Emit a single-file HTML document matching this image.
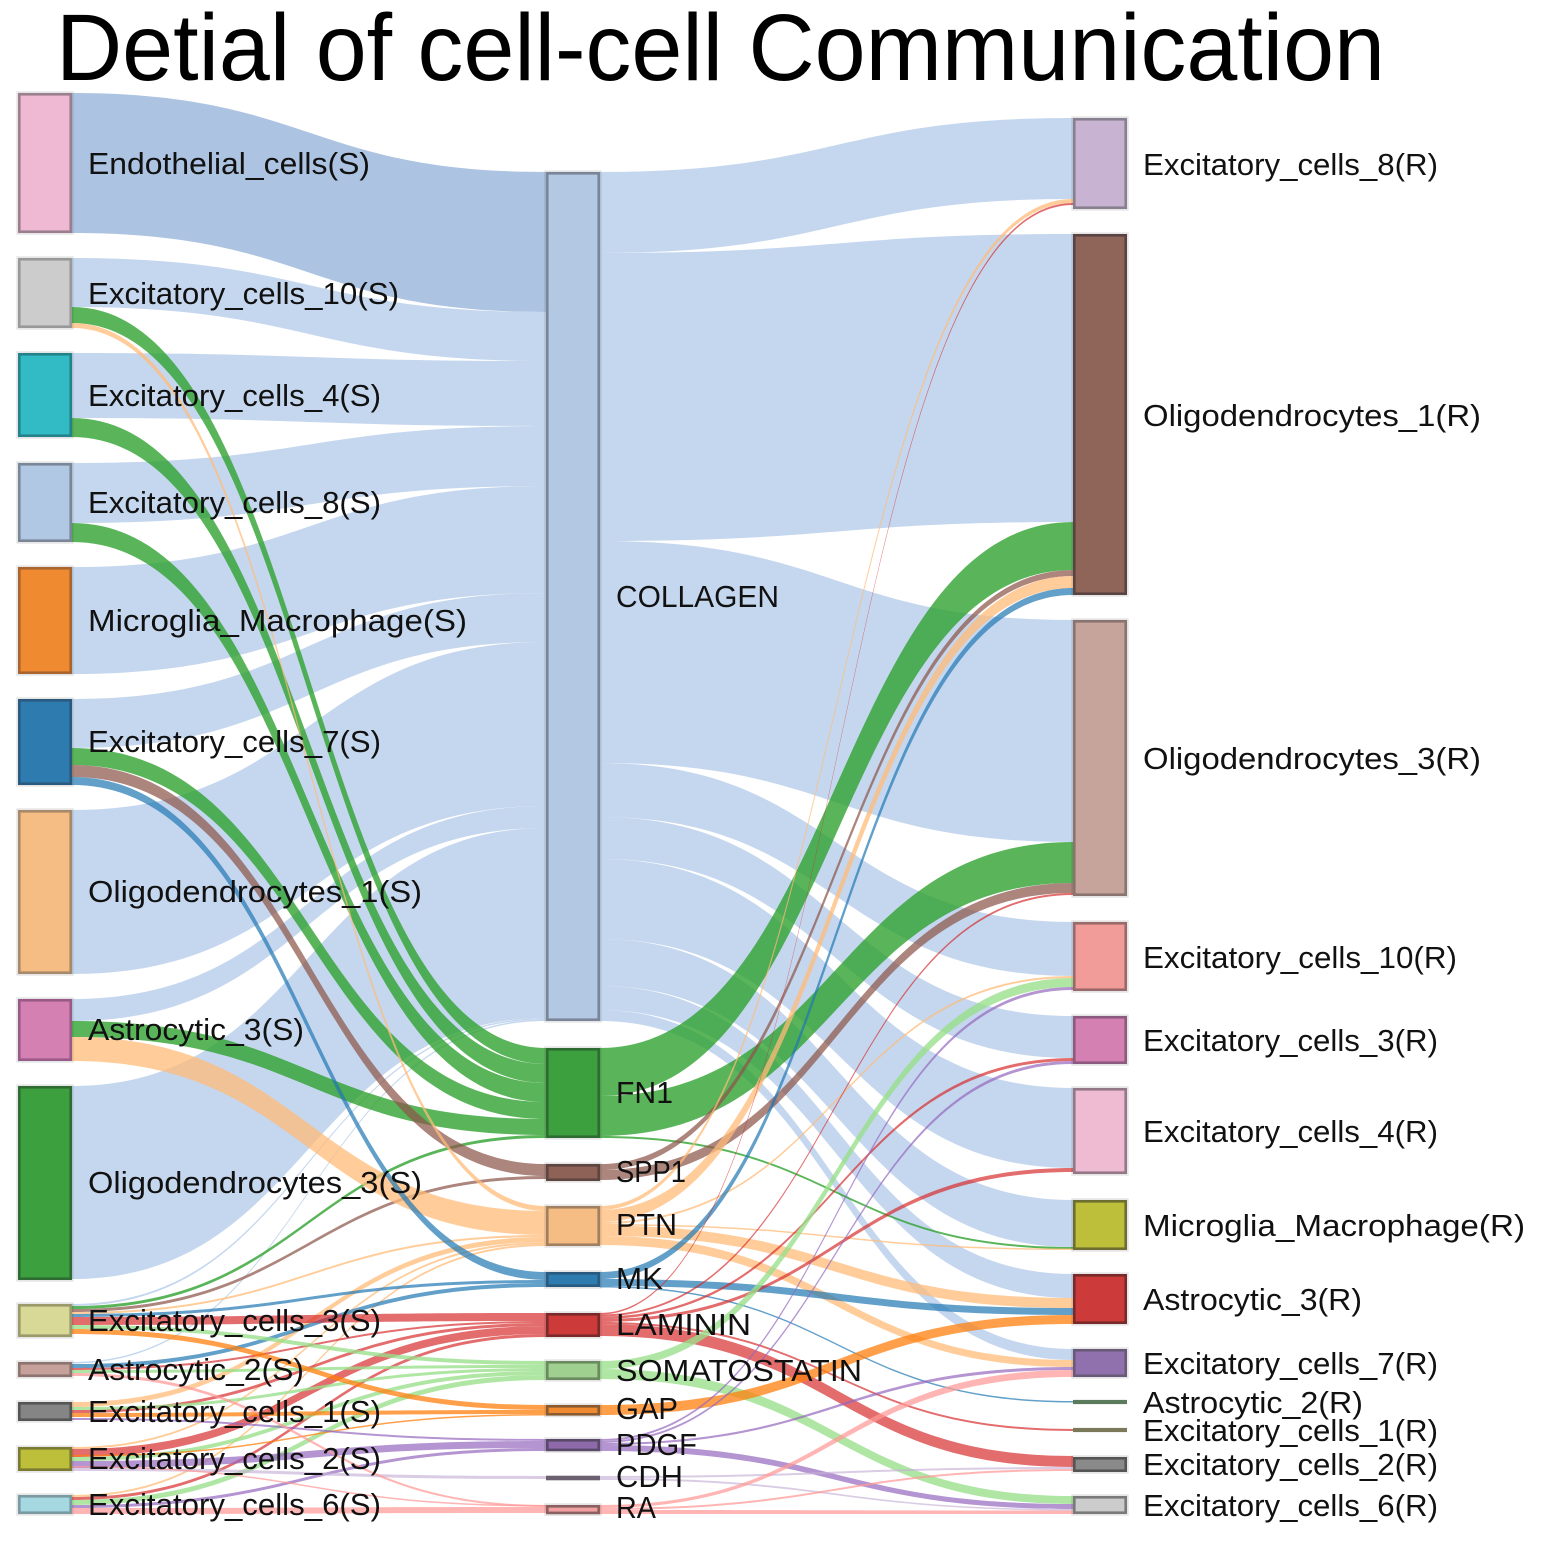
<!DOCTYPE html>
<html>
<head>
<meta charset="utf-8">
<style>
html,body{margin:0;padding:0;background:#fff;}
svg{display:block;}
.lab{font-family:"Liberation Sans","DejaVu Sans",sans-serif;font-size:31px;fill:#111;}
</style>
</head>
<body>
<svg width="1548" height="1551" viewBox="0 0 1548 1551" xmlns="http://www.w3.org/2000/svg">
<rect width="1548" height="1551" fill="#fff"/>

<!-- LEFT -> MIDDLE : COLLAGEN -->
<g fill="#aec7e8" fill-opacity="0.72">
<path d="M72 93C309 93 309 172 546 172L546 312C309 312 309 233 72 233Z" fill="#a9c1e0" fill-opacity="0.97"/>
<path d="M72 258C309 258 309 312 546 312L546 361C309 361 309 307 72 307Z"/>
<path d="M72 353C309 353 309 361 546 361L546 426C309 426 309 418 72 418Z"/>
<path d="M72 463C309 463 309 426 546 426L546 486C309 486 309 523 72 523Z"/>
<path d="M72 567C309 567 309 486 546 486L546 593C309 593 309 674 72 674Z"/>
<path d="M72 699C309 699 309 593 546 593L546 642C309 642 309 748 72 748Z"/>
<path d="M72 810C309 810 309 642 546 642L546 806C309 806 309 974 72 974Z"/>
<path d="M72 999C309 999 309 806 546 806L546 828C309 828 309 1021 72 1021Z"/>
<path d="M72 1086C309 1086 309 828 546 828L546 1018C309 1018 309 1279 72 1279Z"/>
<path d="M72 1304C309 1304 309 1018 546 1018L546 1019.5C309 1019.5 309 1306 72 1306Z"/>
<path d="M72 1362C309 1362 309 1019.5 546 1019.5L546 1021C309 1021 309 1363.5 72 1363.5Z"/>
</g>

<!-- MIDDLE -> RIGHT : COLLAGEN -->
<g fill="#aec7e8" fill-opacity="0.72">
<path d="M600 172C836.5 172 836.5 118 1073 118L1073 199C836.5 199 836.5 253 600 253Z"/>
<path d="M600 253C836.5 253 836.5 234 1073 234L1073 522C836.5 522 836.5 541 600 541Z"/>
<path d="M600 541C836.5 541 836.5 620 1073 620L1073 842C836.5 842 836.5 763 600 763Z"/>
<path d="M600 763C836.5 763 836.5 922 1073 922L1073 976C836.5 976 836.5 817 600 817Z"/>
<path d="M600 817C836.5 817 836.5 1016 1073 1016L1073 1058C836.5 1058 836.5 859 600 859Z"/>
<path d="M600 859C836.5 859 836.5 1088 1073 1088L1073 1168C836.5 1168 836.5 939 600 939Z"/>
<path d="M600 939C836.5 939 836.5 1200 1073 1200L1073 1247C836.5 1247 836.5 986 600 986Z"/>
<path d="M600 986C836.5 986 836.5 1274 1073 1274L1073 1298C836.5 1298 836.5 1010 600 1010Z"/>
<path d="M600 1010C836.5 1010 836.5 1349 1073 1349L1073 1360C836.5 1360 836.5 1021 600 1021Z"/>
</g>

<!-- FN1 -->
<g fill="#2ca02c" fill-opacity="0.78">
<path d="M72 307C309 307 309 1048 546 1048L546 1064C309 1064 309 323 72 323Z"/>
<path d="M72 418C309 418 309 1064 546 1064L546 1083C309 1083 309 437 72 437Z"/>
<path d="M72 523C309 523 309 1083 546 1083L546 1102C309 1102 309 542 72 542Z"/>
<path d="M72 748C309 748 309 1102 546 1102L546 1119C309 1119 309 765 72 765Z"/>
<path d="M72 1021C309 1021 309 1119 546 1119L546 1135C309 1135 309 1037 72 1037Z"/>
<path d="M72 1306C309 1306 309 1135 546 1135L546 1138C309 1138 309 1309 72 1309Z"/>
<path d="M600 1048C836.5 1048 836.5 522 1073 522L1073 570C836.5 570 836.5 1096 600 1096Z"/>
<path d="M600 1096C836.5 1096 836.5 842 1073 842L1073 883C836.5 883 836.5 1136 600 1136Z"/>
<path d="M600 1136C836.5 1136 836.5 1247 1073 1247L1073 1249C836.5 1249 836.5 1138 600 1138Z"/>
</g>

<!-- SPP1 -->
<g fill="#8c564b" fill-opacity="0.72">
<path d="M72 765C309 765 309 1164 546 1164L546 1176C309 1176 309 777 72 777Z"/>
<path d="M72 1309C309 1309 309 1176 546 1176L546 1179C309 1179 309 1312 72 1312Z"/>
<path d="M600 1164C836.5 1164 836.5 570 1073 570L1073 576C836.5 576 836.5 1170 600 1170Z"/>
<path d="M600 1170C836.5 1170 836.5 883 1073 883L1073 893C836.5 893 836.5 1180 600 1180Z"/>
</g>

<!-- PTN -->
<g fill="#ffbb78" fill-opacity="0.75">
<path d="M72 323C309 323 309 1206 546 1206L546 1211C309 1211 309 328 72 328Z"/>
<path d="M72 1037C309 1037 309 1211 546 1211L546 1235C309 1235 309 1061 72 1061Z"/>
<path d="M72 1312C309 1312 309 1235 546 1235L546 1237C309 1237 309 1314 72 1314Z"/>
<path d="M72 1402C309 1402 309 1237 546 1237L546 1242C309 1242 309 1407 72 1407Z"/>
<path d="M72 1447C309 1447 309 1242 546 1242L546 1244C309 1244 309 1449 72 1449Z"/>
<path d="M72 1495C309 1495 309 1244 546 1244L546 1246C309 1246 309 1497 72 1497Z"/>
<path d="M600 1206C836.5 1206 836.5 199 1073 199L1073 203C836.5 203 836.5 1210 600 1210Z"/>
<path d="M600 1210C836.5 1210 836.5 576 1073 576L1073 588C836.5 588 836.5 1222 600 1222Z"/>
<path d="M600 1222C836.5 1222 836.5 976 1073 976L1073 978C836.5 978 836.5 1224 600 1224Z"/>
<path d="M600 1224C836.5 1224 836.5 1248.5 1073 1248.5L1073 1250C836.5 1250 836.5 1225.5 600 1225.5Z"/>
<path d="M600 1225.5C836.5 1225.5 836.5 1298 1073 1298L1073 1308C836.5 1308 836.5 1236 600 1236Z"/>
<path d="M600 1236C836.5 1236 836.5 1360 1073 1360L1073 1367C836.5 1367 836.5 1245 600 1245Z"/>
</g>

<!-- MK -->
<g fill="#1f77b4" fill-opacity="0.7">
<path d="M72 777C309 777 309 1272 546 1272L546 1280C309 1280 309 785 72 785Z"/>
<path d="M72 1314C309 1314 309 1280 546 1280L546 1283C309 1283 309 1317 72 1317Z"/>
<path d="M72 1364C309 1364 309 1283 546 1283L546 1287C309 1287 309 1368 72 1368Z"/>
<path d="M600 1272C836.5 1272 836.5 588 1073 588L1073 595C836.5 595 836.5 1279 600 1279Z"/>
<path d="M600 1279C836.5 1279 836.5 1308 1073 1308L1073 1315C836.5 1315 836.5 1286 600 1286Z"/>
<path d="M600 1286C836.5 1286 836.5 1401 1073 1401L1073 1402.5C836.5 1402.5 836.5 1287.5 600 1287.5Z"/>
</g>

<!-- LAMININ -->
<g fill="#d62728" fill-opacity="0.68">
<path d="M72 1317C309 1317 309 1313 546 1313L546 1321C309 1321 309 1325 72 1325Z"/>
<path d="M72 1368C309 1368 309 1321 546 1321L546 1323C309 1323 309 1370 72 1370Z"/>
<path d="M72 1410C309 1410 309 1323 546 1323L546 1326C309 1326 309 1413 72 1413Z"/>
<path d="M72 1449C309 1449 309 1326 546 1326L546 1334C309 1334 309 1457 72 1457Z"/>
<path d="M72 1497C309 1497 309 1334 546 1334L546 1337C309 1337 309 1500 72 1500Z"/>
<path d="M600 1313C836.5 1313 836.5 203 1073 203L1073 205C836.5 205 836.5 1314.5 600 1314.5Z"/>
<path d="M600 1314.5C836.5 1314.5 836.5 893 1073 893L1073 895C836.5 895 836.5 1316.5 600 1316.5Z"/>
<path d="M600 1316.5C836.5 1316.5 836.5 1058 1073 1058L1073 1061C836.5 1061 836.5 1319 600 1319Z"/>
<path d="M600 1319C836.5 1319 836.5 1168 1073 1168L1073 1172C836.5 1172 836.5 1322 600 1322Z"/>
<path d="M600 1322C836.5 1322 836.5 1429 1073 1429L1073 1431C836.5 1431 836.5 1324 600 1324Z"/>
<path d="M600 1324C836.5 1324 836.5 1456 1073 1456L1073 1467C836.5 1467 836.5 1336 600 1336Z"/>
</g>

<!-- SOMATOSTATIN -->
<g fill="#98df8a" fill-opacity="0.78">
<path d="M72 1325C309 1325 309 1361 546 1361L546 1365C309 1365 309 1329 72 1329Z"/>
<path d="M72 1370C309 1370 309 1365 546 1365L546 1368C309 1368 309 1373 72 1373Z"/>
<path d="M72 1407C309 1407 309 1368 546 1368L546 1371C309 1371 309 1410 72 1410Z"/>
<path d="M72 1457C309 1457 309 1371 546 1371L546 1375C309 1375 309 1461 72 1461Z"/>
<path d="M72 1500C309 1500 309 1375 546 1375L546 1380C309 1380 309 1505 72 1505Z"/>
<path d="M600 1361C836.5 1361 836.5 978 1073 978L1073 987C836.5 987 836.5 1369 600 1369Z"/>
<path d="M600 1369C836.5 1369 836.5 1496 1073 1496L1073 1504C836.5 1504 836.5 1379 600 1379Z"/>
</g>

<!-- GAP -->
<g fill="#ff7f0e" fill-opacity="0.75">
<path d="M72 1329C309 1329 309 1405 546 1405L546 1410C309 1410 309 1334 72 1334Z"/>
<path d="M72 1413C309 1413 309 1410 546 1410L546 1414C309 1414 309 1417 72 1417Z"/>
<path d="M72 1455C309 1455 309 1414 546 1414L546 1415.5C309 1415.5 309 1456.5 72 1456.5Z"/>
<path d="M600 1405C836.5 1405 836.5 1315 1073 1315L1073 1324C836.5 1324 836.5 1415 600 1415Z"/>
</g>

<!-- PDGF -->
<g fill="#9467bd" fill-opacity="0.7">
<path d="M72 1418C309 1418 309 1439 546 1439L546 1441C309 1441 309 1420 72 1420Z"/>
<path d="M72 1461C309 1461 309 1441 546 1441L546 1448C309 1448 309 1468 72 1468Z"/>
<path d="M72 1505C309 1505 309 1448 546 1448L546 1451C309 1451 309 1508 72 1508Z"/>
<path d="M600 1439C836.5 1439 836.5 987 1073 987L1073 990C836.5 990 836.5 1441 600 1441Z"/>
<path d="M600 1441C836.5 1441 836.5 1061 1073 1061L1073 1064C836.5 1064 836.5 1443 600 1443Z"/>
<path d="M600 1443C836.5 1443 836.5 1367 1073 1367L1073 1370C836.5 1370 836.5 1445 600 1445Z"/>
<path d="M600 1445C836.5 1445 836.5 1504 1073 1504L1073 1509C836.5 1509 836.5 1451 600 1451Z"/>
</g>

<!-- CDH -->
<g fill="#c5b0d5" fill-opacity="0.65">
<path d="M72 1468C309 1468 309 1476 546 1476L546 1479C309 1479 309 1471 72 1471Z"/>
<path d="M600 1476C836.5 1476 836.5 1467 1073 1467L1073 1469C836.5 1469 836.5 1478 600 1478Z"/>
<path d="M600 1478C836.5 1478 836.5 1509 1073 1509L1073 1510.5C836.5 1510.5 836.5 1480 600 1480Z"/>
</g>

<!-- RA -->
<g fill="#ff9896" fill-opacity="0.72">
<path d="M72 1373C309 1373 309 1505 546 1505L546 1507C309 1507 309 1376 72 1376Z"/>
<path d="M72 1466C309 1466 309 1505 546 1505L546 1506.5C309 1506.5 309 1467.5 72 1467.5Z"/>
<path d="M72 1508C309 1508 309 1507 546 1507L546 1513C309 1513 309 1514 72 1514Z"/>
<path d="M600 1505C836.5 1505 836.5 1370 1073 1370L1073 1377C836.5 1377 836.5 1508 600 1508Z"/>
<path d="M600 1508C836.5 1508 836.5 1469 1073 1469L1073 1471C836.5 1471 836.5 1510 600 1510Z"/>
<path d="M600 1510C836.5 1510 836.5 1510.5 1073 1510.5L1073 1514C836.5 1514 836.5 1514 600 1514Z"/>
</g>

<!-- node halos -->
<g fill="none" stroke="#000" stroke-opacity="0.1" stroke-width="6">
<rect x="19.3" y="94.3" width="51.4" height="137.4"/>
<rect x="19.3" y="259.3" width="51.4" height="67.4"/>
<rect x="19.3" y="354.3" width="51.4" height="81.4"/>
<rect x="19.3" y="464.3" width="51.4" height="76.4"/>
<rect x="19.3" y="568.3" width="51.4" height="104.4"/>
<rect x="19.3" y="700.3" width="51.4" height="83.4"/>
<rect x="19.3" y="811.3" width="51.4" height="161.4"/>
<rect x="19.3" y="1000.3" width="51.4" height="59.4"/>
<rect x="19.3" y="1087.3" width="51.4" height="191.4"/>
<rect x="19.3" y="1305.3" width="51.4" height="30.4"/>
<rect x="19.3" y="1363.3" width="51.4" height="12.4"/>
<rect x="19.3" y="1403.3" width="51.4" height="16.4"/>
<rect x="19.3" y="1448.3" width="51.4" height="21.4"/>
<rect x="19.3" y="1496.3" width="51.4" height="16.4"/>
<rect x="547.3" y="173.3" width="51.4" height="846.4"/>
<rect x="547.3" y="1049.3" width="51.4" height="87.4"/>
<rect x="547.3" y="1165.3" width="51.4" height="14.4"/>
<rect x="547.3" y="1207.3" width="51.4" height="37.4"/>
<rect x="547.3" y="1273.3" width="51.4" height="12.4"/>
<rect x="547.3" y="1314.3" width="51.4" height="21.4"/>
<rect x="547.3" y="1362.3" width="51.4" height="16.4"/>
<rect x="547.3" y="1406.3" width="51.4" height="8"/>
<rect x="547.3" y="1440.3" width="51.4" height="9.6"/>
<rect x="547.3" y="1506.3" width="51.4" height="6.6"/>
<rect x="1074.3" y="119.3" width="51.4" height="88.4"/>
<rect x="1074.3" y="235.3" width="51.4" height="358.4"/>
<rect x="1074.3" y="621.3" width="51.4" height="273.4"/>
<rect x="1074.3" y="923.3" width="51.4" height="66.4"/>
<rect x="1074.3" y="1017.3" width="51.4" height="45.4"/>
<rect x="1074.3" y="1089.3" width="51.4" height="83.4"/>
<rect x="1074.3" y="1201.3" width="51.4" height="47.4"/>
<rect x="1074.3" y="1275.3" width="51.4" height="47.4"/>
<rect x="1074.3" y="1350.3" width="51.4" height="25.4"/>
<rect x="1074.3" y="1458.3" width="51.4" height="12.4"/>
<rect x="1074.3" y="1497.3" width="51.4" height="15.4"/>
</g>

<!-- NODES LEFT -->
<g stroke-width="2.6">
<rect x="19.3" y="94.3" width="51.4" height="137.4" fill="#efb9d3" stroke="#9c7f8f"/>
<rect x="19.3" y="259.3" width="51.4" height="67.4" fill="#cccccc" stroke="#999999"/>
<rect x="19.3" y="354.3" width="51.4" height="81.4" fill="#33bbc5" stroke="#24838a"/>
<rect x="19.3" y="464.3" width="51.4" height="76.4" fill="#b1c8e4" stroke="#7a8798"/>
<rect x="19.3" y="568.3" width="51.4" height="104.4" fill="#ef8a30" stroke="#a86530"/>
<rect x="19.3" y="700.3" width="51.4" height="83.4" fill="#2e7bb0" stroke="#2a5a80"/>
<rect x="19.3" y="811.3" width="51.4" height="161.4" fill="#f5bd83" stroke="#a88a6a"/>
<rect x="19.3" y="1000.3" width="51.4" height="59.4" fill="#d480b3" stroke="#9a5a88"/>
<rect x="19.3" y="1087.3" width="51.4" height="191.4" fill="#3da03e" stroke="#2e6c34"/>
<rect x="19.3" y="1305.3" width="51.4" height="30.4" fill="#d8d996" stroke="#9a9a6a"/>
<rect x="19.3" y="1363.3" width="51.4" height="12.4" fill="#c6a09a" stroke="#8e7470"/>
<rect x="19.3" y="1403.3" width="51.4" height="16.4" fill="#858585" stroke="#555555"/>
<rect x="19.3" y="1448.3" width="51.4" height="21.4" fill="#bdbe3a" stroke="#7a7a30"/>
<rect x="19.3" y="1496.3" width="51.4" height="16.4" fill="#a5d8e0" stroke="#789aa0"/>
</g>

<!-- NODES MIDDLE -->
<g stroke-width="2.6">
<rect x="547.3" y="173.3" width="51.4" height="846.4" fill="#b3c8e3" stroke="#7a8598"/>
<rect x="547.3" y="1049.3" width="51.4" height="87.4" fill="#3da03e" stroke="#2e6c34"/>
<rect x="547.3" y="1165.3" width="51.4" height="14.4" fill="#8f6257" stroke="#5e4640"/>
<rect x="547.3" y="1207.3" width="51.4" height="37.4" fill="#f5bd83" stroke="#a08060"/>
<rect x="547.3" y="1273.3" width="51.4" height="12.4" fill="#2e7bb0" stroke="#2a5a80"/>
<rect x="547.3" y="1314.3" width="51.4" height="21.4" fill="#cc3a3a" stroke="#7a2a2a"/>
<rect x="547.3" y="1362.3" width="51.4" height="16.4" fill="#a0d090" stroke="#6a8a60"/>
<rect x="547.3" y="1406.3" width="51.4" height="8" fill="#ef8a30" stroke="#8a5a30"/>
<rect x="547.3" y="1440.3" width="51.4" height="9.6" fill="#8f6aaa" stroke="#5a4a6a"/>
<rect x="547.3" y="1477" width="51.4" height="2" fill="#8a8090" stroke="#6a6070"/>
<rect x="547.3" y="1506.3" width="51.4" height="6.6" fill="#f0a0a0" stroke="#8a6060"/>
</g>

<!-- NODES RIGHT -->
<g stroke-width="2.6">
<rect x="1074.3" y="119.3" width="51.4" height="88.4" fill="#c8b4d2" stroke="#888090"/>
<rect x="1074.3" y="235.3" width="51.4" height="358.4" fill="#8f655a" stroke="#5a4442"/>
<rect x="1074.3" y="621.3" width="51.4" height="273.4" fill="#c6a49c" stroke="#8a7470"/>
<rect x="1074.3" y="923.3" width="51.4" height="66.4" fill="#f29c9a" stroke="#9a6a6a"/>
<rect x="1074.3" y="1017.3" width="51.4" height="45.4" fill="#d480b3" stroke="#8e5a80"/>
<rect x="1074.3" y="1089.3" width="51.4" height="83.4" fill="#eebbd2" stroke="#947888"/>
<rect x="1074.3" y="1201.3" width="51.4" height="47.4" fill="#bdbe3a" stroke="#6e6e30"/>
<rect x="1074.3" y="1275.3" width="51.4" height="47.4" fill="#cc3a3a" stroke="#7a2a2a"/>
<rect x="1074.3" y="1350.3" width="51.4" height="25.4" fill="#9171ad" stroke="#6a5a7a"/>
<rect x="1074.3" y="1401.2" width="51.4" height="1.6" fill="#5c7a5c" stroke="#5c7a5c"/>
<rect x="1074.3" y="1429.2" width="51.4" height="1.6" fill="#7a7a5a" stroke="#7a7a5a"/>
<rect x="1074.3" y="1458.3" width="51.4" height="12.4" fill="#8a8a8a" stroke="#555555"/>
<rect x="1074.3" y="1497.3" width="51.4" height="15.4" fill="#cccccc" stroke="#7a7a7a"/>
</g>

<!-- LABELS LEFT -->
<g class="lab">
<text class="lab" x="88" y="174" textLength="282" lengthAdjust="spacingAndGlyphs">Endothelial_cells(S)</text>
<text class="lab" x="88" y="304" textLength="311" lengthAdjust="spacingAndGlyphs">Excitatory_cells_10(S)</text>
<text class="lab" x="88" y="406" textLength="293" lengthAdjust="spacingAndGlyphs">Excitatory_cells_4(S)</text>
<text class="lab" x="88" y="513" textLength="293" lengthAdjust="spacingAndGlyphs">Excitatory_cells_8(S)</text>
<text class="lab" x="88" y="631" textLength="379" lengthAdjust="spacingAndGlyphs">Microglia_Macrophage(S)</text>
<text class="lab" x="88" y="752" textLength="293" lengthAdjust="spacingAndGlyphs">Excitatory_cells_7(S)</text>
<text class="lab" x="88" y="902" textLength="334" lengthAdjust="spacingAndGlyphs">Oligodendrocytes_1(S)</text>
<text class="lab" x="88" y="1040" textLength="216" lengthAdjust="spacingAndGlyphs">Astrocytic_3(S)</text>
<text class="lab" x="88" y="1193" textLength="334" lengthAdjust="spacingAndGlyphs">Oligodendrocytes_3(S)</text>
<text class="lab" x="88" y="1331" textLength="293" lengthAdjust="spacingAndGlyphs">Excitatory_cells_3(S)</text>
<text class="lab" x="88" y="1380" textLength="216" lengthAdjust="spacingAndGlyphs">Astrocytic_2(S)</text>
<text class="lab" x="88" y="1422" textLength="293" lengthAdjust="spacingAndGlyphs">Excitatory_cells_1(S)</text>
<text class="lab" x="88" y="1469" textLength="293" lengthAdjust="spacingAndGlyphs">Excitatory_cells_2(S)</text>
<text class="lab" x="88" y="1515" textLength="293" lengthAdjust="spacingAndGlyphs">Excitatory_cells_6(S)</text>
</g>

<!-- LABELS MIDDLE -->
<g class="lab">
<text class="lab" x="616" y="607" textLength="163" lengthAdjust="spacingAndGlyphs">COLLAGEN</text>
<text class="lab" x="616" y="1103" textLength="57" lengthAdjust="spacingAndGlyphs">FN1</text>
<text class="lab" x="616" y="1182" textLength="70" lengthAdjust="spacingAndGlyphs">SPP1</text>
<text class="lab" x="616" y="1235" textLength="61" lengthAdjust="spacingAndGlyphs">PTN</text>
<text class="lab" x="616" y="1289" textLength="47" lengthAdjust="spacingAndGlyphs">MK</text>
<text class="lab" x="616" y="1335" textLength="135" lengthAdjust="spacingAndGlyphs">LAMININ</text>
<text class="lab" x="616" y="1381" textLength="246" lengthAdjust="spacingAndGlyphs">SOMATOSTATIN</text>
<text class="lab" x="616" y="1419" textLength="62" lengthAdjust="spacingAndGlyphs">GAP</text>
<text class="lab" x="616" y="1455" textLength="81" lengthAdjust="spacingAndGlyphs">PDGF</text>
<text class="lab" x="616" y="1487" textLength="67" lengthAdjust="spacingAndGlyphs">CDH</text>
<text class="lab" x="616" y="1518" textLength="40" lengthAdjust="spacingAndGlyphs">RA</text>
</g>

<!-- LABELS RIGHT -->
<g class="lab">
<text class="lab" x="1143" y="175" textLength="295" lengthAdjust="spacingAndGlyphs">Excitatory_cells_8(R)</text>
<text class="lab" x="1143" y="426" textLength="338" lengthAdjust="spacingAndGlyphs">Oligodendrocytes_1(R)</text>
<text class="lab" x="1143" y="769" textLength="338" lengthAdjust="spacingAndGlyphs">Oligodendrocytes_3(R)</text>
<text class="lab" x="1143" y="968" textLength="314" lengthAdjust="spacingAndGlyphs">Excitatory_cells_10(R)</text>
<text class="lab" x="1143" y="1051" textLength="295" lengthAdjust="spacingAndGlyphs">Excitatory_cells_3(R)</text>
<text class="lab" x="1143" y="1142" textLength="295" lengthAdjust="spacingAndGlyphs">Excitatory_cells_4(R)</text>
<text class="lab" x="1143" y="1236" textLength="382" lengthAdjust="spacingAndGlyphs">Microglia_Macrophage(R)</text>
<text class="lab" x="1143" y="1310" textLength="219" lengthAdjust="spacingAndGlyphs">Astrocytic_3(R)</text>
<text class="lab" x="1143" y="1374" textLength="295" lengthAdjust="spacingAndGlyphs">Excitatory_cells_7(R)</text>
<text class="lab" x="1143" y="1413" textLength="220" lengthAdjust="spacingAndGlyphs">Astrocytic_2(R)</text>
<text class="lab" x="1143" y="1441" textLength="295" lengthAdjust="spacingAndGlyphs">Excitatory_cells_1(R)</text>
<text class="lab" x="1143" y="1475" textLength="295" lengthAdjust="spacingAndGlyphs">Excitatory_cells_2(R)</text>
<text class="lab" x="1143" y="1516" textLength="295" lengthAdjust="spacingAndGlyphs">Excitatory_cells_6(R)</text>
</g>

<!-- TITLE -->
<text x="56" y="80" font-family="Liberation Sans, Arial, sans-serif" font-size="95" fill="#000" textLength="1329" lengthAdjust="spacingAndGlyphs">Detial of cell-cell Communication</text>
</svg>
</body>
</html>
